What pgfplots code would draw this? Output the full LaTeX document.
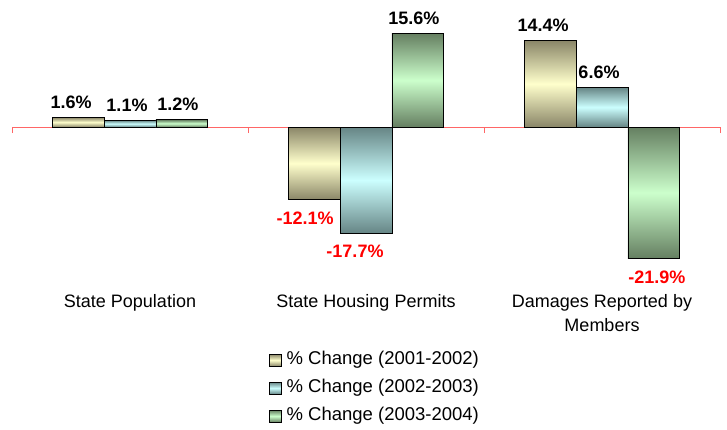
\documentclass[border=0pt]{standalone}
\usepackage{pgfplots}
\pgfplotsset{compat=1.18}
\usepackage{fontspec}
\setmainfont{Liberation Sans}
\definecolor{tanD}{HTML}{8A8668}
\definecolor{tanL}{HTML}{FFFFCC}
\definecolor{cyaD}{HTML}{668585}
\definecolor{cyaL}{HTML}{CCFFFF}
\definecolor{grnD}{HTML}{657F61}
\definecolor{grnL}{HTML}{CCFFCC}
\definecolor{axred}{HTML}{FF6666}
\tikzset{
  tanS/.style={top color=tanD, bottom color=tanD, middle color=tanL},
  cyaS/.style={top color=cyaD, bottom color=cyaD, middle color=cyaL},
  grnS/.style={top color=grnD, bottom color=grnD, middle color=grnL},
}
\pgfplotsset{
  posbar/.style n args={3}{ybar, bar width=0.22, bar shift=#1, draw=black, line width=0.8pt, fill=white, forget plot,
    visualization depends on={value \thisrow{y} \as \rawy},
    nodes near coords={},
    every node near coord/.append style={xshift={#1*236pt}, inner sep=0pt, outer sep=0pt, minimum size=0pt,
      label={[#2, draw=black, line width=0.8pt, inner sep=0pt, outer sep=0pt, minimum width=51.92pt, minimum height={abs(\rawy)*6pt}, yshift={-abs(\rawy)*3pt}]center:},
      label={[font=\bfseries\fontsize{18}{20}\selectfont, text=black, inner sep=0pt, yshift=15.5pt, xshift=#3]center:\rawy\%}}},
  negbar/.style n args={3}{ybar, bar width=0.22, bar shift=#1, draw=black, line width=0.8pt, fill=white, forget plot,
    visualization depends on={value \thisrow{y} \as \rawy},
    nodes near coords={},
    every node near coord/.append style={xshift={#1*236pt}, inner sep=0pt, outer sep=0pt, minimum size=0pt,
      label={[#2, draw=black, line width=0.8pt, inner sep=0pt, outer sep=0pt, minimum width=51.92pt, minimum height={abs(\rawy)*6pt}, yshift={abs(\rawy)*3pt}]center:},
      label={[font=\bfseries\fontsize{18}{20}\selectfont, text=red, inner sep=0pt, yshift=-18.5pt, xshift=#3]center:\rawy\%}}},
}
\begin{document}
\begin{tikzpicture}
\useasboundingbox (0,0) rectangle (727pt,429pt);
\begin{axis}[
  at={(12pt,152pt)}, anchor=south west,
  scale only axis, width=708pt, height=270pt,
  xmin=-0.5, xmax=2.5, ymin=-25, ymax=20,
  axis x line=middle, axis y line=none,
  x axis line style={-, axred, line width=0.8pt},
  xtick={-0.5,0.5,1.5,2.5}, xticklabels={},
  xtick align=outside, major tick length=6pt,
  xtick style={axred, line width=0.8pt},
  ytick=\empty,
  clip=false, axis on top,
  legend style={at={(0.512,-0.272)}, anchor=north, draw=none, fill=none,
    font=\fontsize{18.5}{21}\selectfont, row sep=9pt, inner sep=0pt,
    nodes={inner sep=1pt, text height=13pt, text depth=4pt}},
  legend cell align=left,
]
\addlegendimage{legend image code/.code={\draw[draw=black, line width=0.8pt, tanS] (0pt,-6pt) rectangle (12pt,6pt); \path (0pt,0pt) (16pt,0pt);}}
\addlegendentry{\% Change (2001-2002)}
\addlegendimage{legend image code/.code={\draw[draw=black, line width=0.8pt, cyaS] (0pt,-6pt) rectangle (12pt,6pt); \path (0pt,0pt) (16pt,0pt);}}
\addlegendentry{\% Change (2002-2003)}
\addlegendimage{legend image code/.code={\draw[draw=black, line width=0.8pt, grnS] (0pt,-6pt) rectangle (12pt,6pt); \path (0pt,0pt) (16pt,0pt);}}
\addlegendentry{\% Change (2003-2004)}

% % Change (2001-2002)
\addplot[posbar={-0.22}{tanS}{-7pt}] table {
x y
0 1.6
2 14.4
};
\addplot[negbar={-0.22}{tanS}{-9pt}] table {
x y
1 -12.1
};
% % Change (2002-2003)
\addplot[posbar={0}{cyaS}{-3pt}] table {
x y
0 1.1
2 6.6
};
\addplot[negbar={0}{cyaS}{-11pt}] table {
x y
1 -17.7
};
% % Change (2003-2004)
\addplot[posbar={0.22}{grnS}{-4pt}] table {
x y
0 1.2
1 15.6
};
\addplot[negbar={0.22}{grnS}{3pt}] table {
x y
2 -21.9
};

\node[anchor=north, font=\fontsize{18}{24}\selectfont, align=center, inner sep=0pt] at (axis cs:0,-27.8) {State Population};
\node[anchor=north, font=\fontsize{18}{24}\selectfont, align=center, inner sep=0pt] at (axis cs:1,-27.8) {State Housing Permits};
\node[anchor=north, font=\fontsize{18}{24}\selectfont, align=center, inner sep=0pt] at (axis cs:2,-27.8) {Damages Reported by\\Members};
\end{axis}
\end{tikzpicture}
\end{document}
